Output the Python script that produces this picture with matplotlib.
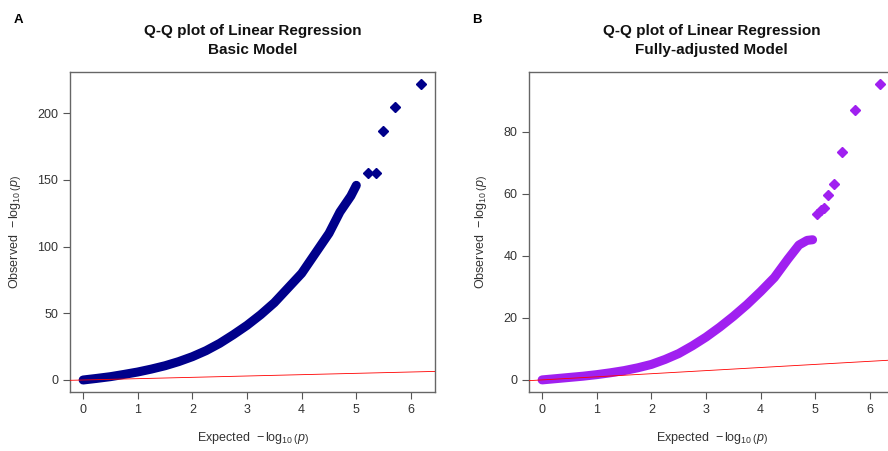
import matplotlib.pyplot as plt

plt.rcParams['font.family'] = ['Liberation Sans', 'DejaVu Sans']
plt.rcParams['mathtext.fontset'] = 'custom'
plt.rcParams['mathtext.rm'] = 'Liberation Sans'
plt.rcParams['mathtext.it'] = 'Liberation Sans:italic'

# Panel A - basic model (dense band)
a_exp = [0, 0.25, 0.5, 0.75, 1.0, 1.25, 1.5, 1.75, 2.0, 2.25, 2.5, 2.75,
         3.0, 3.25, 3.5, 3.75, 4.0, 4.25, 4.5, 4.7, 4.9, 5.0]
a_obs = [0, 1.2, 2.5, 4.2, 6.0, 8.2, 10.7, 13.8, 17.5, 22, 27.5, 34,
         41, 49, 58, 69, 80, 95, 110, 126, 138, 146]
# Panel A - isolated top hits
a_tail_exp = [5.22, 5.36, 5.48, 5.70, 6.19]
a_tail_obs = [155.6, 155.6, 186.5, 204.7, 221.7]

# Panel B - fully-adjusted model
b_exp = [0, 0.25, 0.5, 0.75, 1.0, 1.25, 1.5, 1.75, 2.0, 2.25, 2.5, 2.75,
         3.0, 3.25, 3.5, 3.75, 4.0, 4.25, 4.5, 4.7, 4.85, 4.95]
b_obs = [0, 0.4, 0.8, 1.2, 1.7, 2.3, 3.0, 3.9, 5.0, 6.6, 8.5, 11,
         13.8, 17, 20.5, 24.3, 28.5, 33, 39, 43.5, 45, 45.2]
b_tail_exp = [5.03, 5.10, 5.15, 5.24, 5.35, 5.49, 5.72, 6.18]
b_tail_obs = [53.5, 54.8, 55.4, 59.7, 63.1, 73.5, 87.1, 95.5]

xlim = (-0.24, 6.44)

panels = [
    dict(label="A", title="Q-Q plot of Linear Regression\nBasic Model",
         x=a_exp, y=a_obs, tx=a_tail_exp, ty=a_tail_obs, color="#00008B",
         ylim=(-9, 231), yticks=[0, 50, 100, 150, 200],
         rect=[70 / 888, 59 / 451, 365 / 888, 320 / 451], lx=18 / 888),
    dict(label="B", title="Q-Q plot of Linear Regression\nFully-adjusted Model",
         x=b_exp, y=b_obs, tx=b_tail_exp, ty=b_tail_obs, color="#A020F0",
         ylim=(-3.9, 99.3), yticks=[0, 20, 40, 60, 80],
         rect=[529 / 888, 59 / 451, 365 / 888, 320 / 451], lx=477 / 888),
]

fig = plt.figure(figsize=(8.88, 4.51), dpi=100)

for p in panels:
    ax = fig.add_axes(p["rect"])
    ax.plot(p["x"], p["y"], color=p["color"], lw=6.5,
            solid_capstyle="round", solid_joinstyle="round", zorder=2)
    ax.plot(p["tx"], p["ty"], "D", color=p["color"], ms=5, zorder=2)
    ax.plot(xlim, xlim, color="red", lw=0.6, zorder=3)

    ax.set_xlim(xlim)
    ax.set_ylim(p["ylim"])
    ax.set_xticks(range(0, 7))
    ax.set_yticks(p["yticks"])
    ax.tick_params(colors="#555555", labelcolor="#333333", labelsize=9,
                   length=5, width=0.8)
    for s in ax.spines.values():
        s.set_color("#666666")
        s.set_linewidth(1)

    ax.set_title(p["title"], fontsize=11, fontweight="bold", pad=13,
                 color="#111111", linespacing=1.45)
    ax.set_xlabel(r"Expected  $-\,\log_{10}\left(p\right)$", fontsize=9,
                  color="#333333", labelpad=10)
    ax.set_ylabel(r"Observed  $-\,\log_{10}\left(p\right)$", fontsize=9,
                  color="#333333", labelpad=10)
    fig.text(p["lx"], 1 - 20 / 451, p["label"], fontsize=9.5,
             fontweight="bold", ha="center", va="center")

fig.savefig("out.png", dpi=100)
